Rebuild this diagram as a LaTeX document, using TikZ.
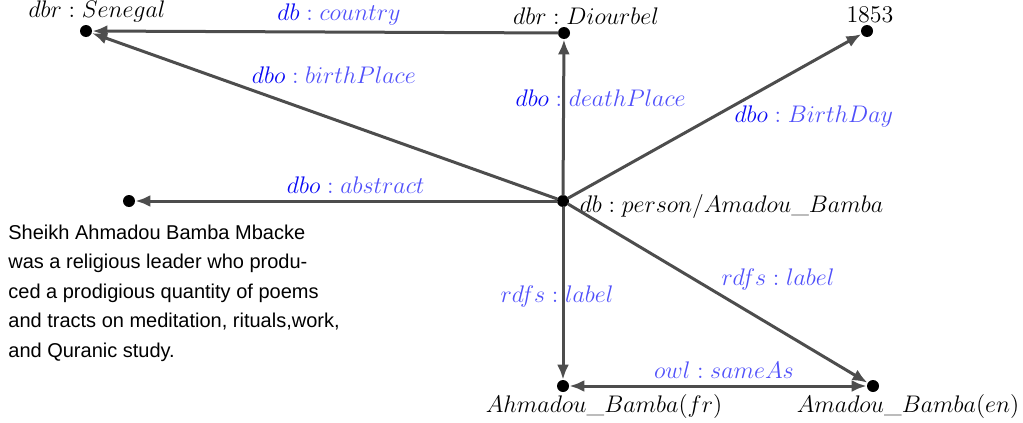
\documentclass[tikz,border=0pt]{standalone}
\usepackage{fontspec}
\usetikzlibrary{arrows.meta}

\newfontfamily\abstractfont{Liberation Sans}
\definecolor{edgegray}{RGB}{77,77,77}
\definecolor{relblue}{RGB}{10,10,245}
\definecolor{rellight}{RGB}{80,80,250}
\newcommand{\pfx}[1]{\textcolor{relblue}{#1}}

\begin{document}
\begin{tikzpicture}[%
        x = 0.5pt,
        y = -0.5pt,
        line cap = round,
        > = {Latex[length = 7.5pt, width = 6pt]},
        dot/.style = {
            circle,
            fill = black,
            inner sep = 0,
            minimum size = 6pt
        },
        arc/.style = {
            draw = edgegray,
            line width = 1.5pt,
            ->
        },
        rel/.style = {
            font = \large,
            inner sep = 1pt,
            text = rellight
        },
        res/.style = {
            font = \large,
            inner sep = 1pt
        }
    ]

        % Fix the page size.
        \useasboundingbox (0, 0) rectangle (1023, 423);

        % Resources of the graph.
        \node[dot, label = {[res, yshift = -2.5pt, label distance = 4pt]right:$db:person/Amadou\_Bamba$}]
            at (563, 201) (person) {};
        \node[dot, label = {[res, xshift = 5.5pt]above:$dbr:Senegal$}] at (86, 31) (senegal) {};
        \node[dot, label = {[res, xshift = 11pt]above:$dbr:Diourbel$}] at (564, 33) (diourbel) {};
        \node[dot, label = {[res, xshift = 1.5pt]above:$1853$}] at (867, 31) (birthday) {};
        \node[dot] at (129, 201) (abstract) {};
        \node[dot, label = {[res, xshift = 20.5pt]below:$Ahmadou\_Bamba(fr)$}] at (563, 386) (labelfr) {};
        \node[dot, label = {[res, xshift = 17.5pt]below:$Amadou\_Bamba(en)$}] at (873, 386) (labelen) {};

        % Text of the abstract.
        \node[anchor = north west, align = left, inner sep = 0,
              font = {\abstractfont\fontsize{10}{14.75}\selectfont}] at (8, 224.5) (abstracttext)
            {Sheikh Ahmadou Bamba Mbacke\\
             was a religious leader who produ-\\
             ced a prodigious quantity of poems\\
             and tracts on meditation, rituals,work,\\
             and Quranic study.};

        % Draw the relations.
        \draw[arc] (diourbel) to node[rel, pos = 0.47, above = 1.5pt] {$\pfx{db}:country$} (senegal);
        \draw[arc] (person) to node[rel, pos = 0.48, above = 16pt] {$\pfx{dbo}:birthPlace$} (senegal);
        \draw[arc] (person) to node[rel, pos = 0.62, xshift = 18.5pt] {$\pfx{dbo}:deathPlace$} (diourbel);
        \draw[arc] (person) to node[rel, midway, right = 8pt] {$\pfx{dbo}:BirthDay$} (birthday);
        \draw[arc] (person) to node[rel, pos = 0.477, above = 2pt] {$\pfx{dbo}:abstract$} (abstract);
        \draw[arc] (person) to node[rel, pos = 0.52, xshift = -3pt] {$rdfs:label$} (labelfr);
        \draw[arc] (person) to node[rel, midway, anchor = south west] {$rdfs:label$} (labelen);
        \draw[arc, <->] (labelfr) to node[rel, pos = 0.52, above = 2pt] {$owl:sameAs$} (labelen);
    \end{tikzpicture}
\end{document}
